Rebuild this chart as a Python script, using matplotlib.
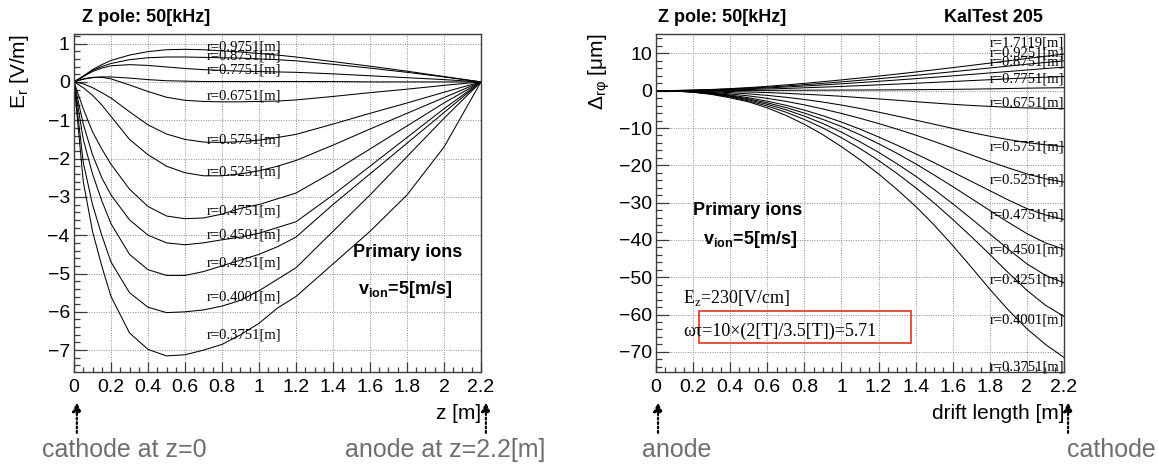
"""
Space-charge distortion from primary ions (Z pole, 50 kHz, v_ion = 5 m/s).

Left  : radial field E_r along z for several radii (cathode at z=0, anode at z=2.2 m)
Right : resulting r-phi displacement vs drift length (anode at 0, cathode at 2.2 m)
"""
import matplotlib.pyplot as plt
from matplotlib.patches import Rectangle
from matplotlib.ticker import MultipleLocator, FuncFormatter

plt.rcParams["font.family"] = ["Liberation Sans", "DejaVu Sans"]
SERIF = ["Liberation Serif", "DejaVu Serif"]

W, H = 1158, 465

# --- E_r [V/m] vs z [m] -------------------------------------------------------
Z_POS = [0, 0.05, 0.1, 0.15, 0.2, 0.3, 0.4, 0.5, 0.6, 0.7, 0.8, 0.9, 1.0, 1.1,
         1.2, 1.4, 1.6, 1.8, 2.0, 2.2]

ER_R09751 = [0, 0.15, 0.32, 0.45, 0.56, 0.70, 0.79, 0.84, 0.85, 0.84, 0.81, 0.78,
             0.74, 0.70, 0.65, 0.53, 0.41, 0.28, 0.14, 0]
ER_R08751 = [0, 0.15, 0.30, 0.40, 0.48, 0.58, 0.63, 0.65, 0.65, 0.64, 0.63, 0.62,
             0.60, 0.58, 0.55, 0.46, 0.36, 0.25, 0.13, 0]
ER_R07751 = [0, 0.14, 0.27, 0.36, 0.42, 0.45, 0.43, 0.39, 0.35, 0.32, 0.30, 0.28,
             0.27, 0.26, 0.25, 0.21, 0.16, 0.11, 0.06, 0]
ER_R07251 = [0, 0.07, 0.11, 0.13, 0.13, 0.10, 0.06, 0.03, 0.02, 0.01, 0.01, 0.01,
             0.01, 0.01, 0.01, 0.01, 0.0, 0.0, 0.0, 0]
ER_R06751 = [0, 0.08, 0.12, 0.12, 0.08, -0.08, -0.25, -0.40, -0.48, -0.51, -0.52,
             -0.52, -0.51, -0.50, -0.47, -0.38, -0.28, -0.19, -0.09, 0]
ER_R05751 = [0, -0.05, -0.15, -0.28, -0.42, -0.78, -1.12, -1.36, -1.50, -1.57,
             -1.58, -1.56, -1.52, -1.45, -1.37, -1.10, -0.82, -0.55, -0.27, 0]
ER_R05251 = [0, -0.15, -0.35, -0.60, -0.90, -1.50, -1.90, -2.20, -2.37, -2.45,
             -2.45, -2.40, -2.32, -2.20, -2.05, -1.65, -1.23, -0.82, -0.41, 0]
ER_R04751 = [0, -0.70, -1.30, -1.75, -2.15, -2.80, -3.25, -3.50, -3.57, -3.55,
             -3.45, -3.30, -3.20, -3.05, -2.90, -2.35, -1.75, -1.15, -0.55, 0]
ER_R04501 = [0, -1.10, -1.90, -2.50, -2.95, -3.60, -4.00, -4.20, -4.25, -4.20,
             -4.12, -4.05, -3.95, -3.80, -3.65, -2.95, -2.20, -1.45, -0.70, 0]
ER_R04251 = [0, -1.50, -2.40, -3.10, -3.70, -4.50, -4.90, -5.05, -5.05, -4.95,
             -4.80, -4.65, -4.50, -4.30, -4.05, -3.20, -2.40, -1.60, -0.80, 0]
ER_R04001 = [0, -2.10, -3.20, -4.00, -4.70, -5.50, -5.88, -6.02, -6.00, -5.95,
             -5.85, -5.70, -5.45, -5.15, -4.85, -3.90, -2.95, -1.95, -0.95, 0]
ER_R03751 = [0, -2.60, -3.90, -4.80, -5.60, -6.55, -6.98, -7.15, -7.12, -7.00,
             -6.85, -6.60, -6.30, -5.90, -5.60, -4.75, -3.90, -2.95, -1.70, 0]

ER_CURVES = [ER_R09751, ER_R08751, ER_R07751, ER_R07251, ER_R06751, ER_R05751,
             ER_R05251, ER_R04751, ER_R04501, ER_R04251, ER_R04001, ER_R03751]

ER_LABELS = ["r=0.9751[m]", "r=0.8751[m]", "r=0.7751[m]", "r=0.6751[m]",
             "r=0.5751[m]", "r=0.5251[m]", "r=0.4751[m]", "r=0.4501[m]",
             "r=0.4251[m]", "r=0.4001[m]", "r=0.3751[m]"]
ER_LABEL_Y = [0.92, 0.68, 0.30, -0.38, -1.51, -2.34, -3.37, -4.0, -4.73, -5.6, -6.6]

# --- Delta_rphi [um] vs drift length [m] -------------------------------------
DRIFT = [0.0, 0.1, 0.2, 0.3, 0.4, 0.5, 0.6, 0.7, 0.8, 0.9, 1.0, 1.1, 1.2, 1.3,
         1.4, 1.5, 1.6, 1.7, 1.8, 1.9, 2.0, 2.1, 2.2]

D_R17119 = [0, 0.05, 0.16, 0.33, 0.56, 0.84, 1.17, 1.55, 1.97, 2.42, 2.90, 3.40,
            3.92, 4.46, 5.02, 5.60, 6.19, 6.79, 7.40, 8.02, 8.64, 9.24, 9.80]
D_R09251 = [0, 0.04, 0.13, 0.27, 0.46, 0.69, 0.96, 1.27, 1.61, 1.98, 2.37, 2.78,
            3.21, 3.66, 4.12, 4.60, 5.09, 5.59, 6.09, 6.60, 7.10, 7.58, 8.00]
D_R08751 = [0, 0.03, 0.10, 0.21, 0.36, 0.54, 0.75, 0.99, 1.26, 1.55, 1.86, 2.18,
            2.52, 2.87, 3.23, 3.60, 3.98, 4.37, 4.76, 5.15, 5.55, 5.95, 6.30]
D_R07751 = [0, 0.02, 0.06, 0.13, 0.22, 0.33, 0.46, 0.61, 0.78, 0.96, 1.15, 1.35,
            1.56, 1.78, 2.00, 2.23, 2.47, 2.71, 2.95, 3.20, 3.42, 3.63, 3.80]
D_R07251 = [0, 0.01, 0.02, 0.03, 0.05, 0.07, 0.09, 0.11, 0.13, 0.15, 0.17, 0.19,
            0.21, 0.24, 0.27, 0.31, 0.36, 0.42, 0.50, 0.59, 0.68, 0.75, 0.80]
D_R06751 = [0, -0.01, -0.05, -0.12, -0.22, -0.35, -0.50, -0.70, -0.95, -1.20,
            -1.50, -1.85, -2.20, -2.55, -2.95, -3.30, -3.65, -3.95, -4.20, -4.45,
            -4.62, -4.72, -4.80]
D_R05751 = [0, -0.03, -0.12, -0.28, -0.52, -0.85, -1.25, -1.75, -2.35, -3.05,
            -3.85, -4.75, -5.75, -6.80, -7.90, -9.00, -10.1, -11.2, -12.2, -13.1,
            -13.9, -14.5, -15.0]
D_R05251 = [0, -0.05, -0.20, -0.45, -0.85, -1.40, -2.05, -2.85, -3.80, -4.90,
            -6.10, -7.40, -8.80, -10.3, -11.9, -13.6, -15.4, -17.2, -19.0, -20.7,
            -22.3, -23.6, -24.5]
D_R04751 = [0, -0.06, -0.25, -0.60, -1.15, -1.90, -2.80, -3.90, -5.20, -6.70,
            -8.40, -10.3, -12.4, -14.6, -16.9, -19.3, -21.8, -24.3, -26.8, -29.3,
            -31.6, -33.3, -34.5]
D_R04501 = [0, -0.07, -0.30, -0.72, -1.35, -2.20, -3.25, -4.50, -6.00, -7.70,
            -9.60, -11.8, -14.2, -16.8, -19.6, -22.6, -25.7, -28.9, -32.1, -35.3,
            -38.3, -40.8, -42.5]
D_R04251 = [0, -0.08, -0.34, -0.80, -1.50, -2.45, -3.65, -5.10, -6.80, -8.80,
            -11.1, -13.7, -16.5, -19.6, -22.9, -26.5, -30.3, -34.3, -38.4, -42.5,
            -46.4, -49.5, -51.5]
D_R04001 = [0, -0.09, -0.38, -0.90, -1.70, -2.75, -4.10, -5.75, -7.70, -10.0,
            -12.6, -15.5, -18.7, -22.2, -26.0, -30.1, -34.5, -39.1, -43.9, -48.8,
            -53.5, -57.5, -60.5]
D_R03751 = [0, -0.10, -0.40, -1.00, -1.90, -3.00, -4.60, -6.60, -9.00, -11.8,
            -15.0, -18.5, -22.3, -26.5, -31.0, -36.0, -41.5, -47.3, -53.2, -58.8,
            -63.8, -68.0, -71.5]

D_CURVES = [D_R17119, D_R09251, D_R08751, D_R07751, D_R07251, D_R06751, D_R05751,
            D_R05251, D_R04751, D_R04501, D_R04251, D_R04001, D_R03751]

D_LABELS = ["r=1.7119[m]", "r=0.9251[m]", "r=0.8751[m]", "r=0.7751[m]",
            "r=0.6751[m]", "r=0.5751[m]", "r=0.5251[m]", "r=0.4751[m]",
            "r=0.4501[m]", "r=0.4251[m]", "r=0.4001[m]", "r=0.3751[m]"]
D_LABEL_Y = [12.8, 10.1, 7.8, 3.1, -3.3, -15.0, -24.0, -33.3, -42.7, -50.8, -61.5, -74.0]

GRAY_TXT = "#6e6e6e"
FRAME = "#3c3c3c"


def fx(px):
    return px / W


def fy(py):
    return 1 - py / H


def tick_fmt(v, _pos):
    return f"{v:g}".replace("-", "\u2212")


def style_axes(ax, ymajor, yminor, ylim):
    ax.set_xlim(0, 2.2)
    ax.set_ylim(*ylim)
    ax.xaxis.set_major_locator(MultipleLocator(0.2))
    ax.xaxis.set_minor_locator(MultipleLocator(0.05))
    ax.xaxis.set_major_formatter(FuncFormatter(tick_fmt))
    ax.yaxis.set_major_locator(MultipleLocator(ymajor))
    ax.yaxis.set_minor_locator(MultipleLocator(yminor))
    ax.yaxis.set_major_formatter(FuncFormatter(tick_fmt))
    ax.tick_params(axis="both", which="both", direction="in", top=False,
                   right=False, color=FRAME, width=0.9, labelsize=14)
    ax.tick_params(axis="x", which="major", length=7, pad=5)
    ax.tick_params(axis="x", which="minor", length=3.5)
    ax.tick_params(axis="y", which="major", length=9, pad=3)
    ax.tick_params(axis="y", which="minor", length=4.5)
    for sp in ax.spines.values():
        sp.set_color(FRAME)
        sp.set_linewidth(1.0)
    ax.grid(True, which="major", color="#8a8a8a", linestyle=(0, (1, 1.5)),
            linewidth=0.7)
    ax.set_axisbelow(True)


def drift_arrow(ax, xfrac):
    ax.annotate("", xy=(xfrac, -0.09), xytext=(xfrac, -0.18),
                xycoords="axes fraction", textcoords="axes fraction",
                annotation_clip=False,
                arrowprops=dict(arrowstyle="-|>", color="black", lw=1.6,
                                linestyle=(0, (0.8, 1.2)), mutation_scale=13,
                                shrinkA=0, shrinkB=0))


fig = plt.figure(figsize=(W / 100, H / 100), dpi=100)
ax_l = fig.add_axes([fx(74), fy(372), fx(407), 338 / H])
ax_r = fig.add_axes([fx(656), fy(372), fx(408), 338 / H])

# ---- left: E_r ----
style_axes(ax_l, 1, 0.2, (-7.57, 1.25))
for vals in ER_CURVES:
    ax_l.plot(Z_POS, vals, color="black", lw=0.75)
for txt, y in zip(ER_LABELS, ER_LABEL_Y):
    ax_l.text(0.72, y, txt, family=SERIF, fontsize=10.5, va="center", ha="left")
ax_l.text(1.805, -4.44, "Primary ions", fontsize=13, fontweight="bold",
          ha="center", va="center")
ax_l.text(1.79, -5.43, r"v$_\mathregular{ion}$=5[m/s]", fontsize=13,
          fontweight="bold", ha="center", va="center")
ax_l.set_ylabel(r"E$_\mathregular{r}$ [V/m]", fontsize=15, loc="top")
ax_l.yaxis.set_label_coords(-0.105, 1.0)
ax_l.set_xlabel("z [m]", fontsize=15, loc="right")
ax_l.xaxis.set_label_coords(1.0, -0.095)
drift_arrow(ax_l, 0.007)
drift_arrow(ax_l, 1.012)

# ---- right: Delta_rphi ----
style_axes(ax_r, 10, 2, (-75.4, 15.2))
for vals in D_CURVES:
    ax_r.plot(DRIFT, vals, color="black", lw=0.75)
for txt, y in zip(D_LABELS, D_LABEL_Y):
    ax_r.text(1.8, y, txt, family=SERIF, fontsize=10.5, va="center", ha="left",
              clip_on=False)
ax_r.text(0.2, -32, "Primary ions", fontsize=13, fontweight="bold",
          ha="left", va="center")
ax_r.text(0.253, -40, r"v$_\mathregular{ion}$=5[m/s]", fontsize=13,
          fontweight="bold", ha="left", va="center")
ax_r.text(0.146, -55.6, r"E$_\mathregular{z}$=230[V/cm]", family=SERIF,
          fontsize=13, ha="left", va="center")
ax_r.text(0.146, -64.6, "ωτ=10×(2[T]/3.5[T])=5.71", family=SERIF,
          fontsize=13, ha="left", va="center")
ax_r.add_patch(Rectangle((0.232, -67.6), 1.143, 8.6, fill=False,
                         edgecolor="#e5432d", lw=1.3))
ax_r.set_ylabel("Δ$_\\mathregular{rφ}$ [μm]", fontsize=15, loc="top")
ax_r.yaxis.set_label_coords(-0.108, 1.0)
ax_r.set_xlabel("drift length [m]", fontsize=15, loc="right")
ax_r.xaxis.set_label_coords(1.0, -0.095)
drift_arrow(ax_r, 0.005)
drift_arrow(ax_r, 1.01)

# ---- titles ----
fig.text(fx(82), fy(18), "Z pole: 50[kHz]", fontsize=13, fontweight="bold",
         va="center", ha="left")
fig.text(fx(658), fy(18), "Z pole: 50[kHz]", fontsize=13, fontweight="bold",
         va="center", ha="left")
fig.text(fx(1043), fy(18), "KalTest 205", fontsize=13, fontweight="bold",
         va="center", ha="right")

# ---- electrode positions ----
fig.text(fx(42), fy(450), "cathode at z=0", fontsize=18, color=GRAY_TXT,
         va="center", ha="left")
fig.text(fx(345), fy(450), "anode at z=2.2[m]", fontsize=18, color=GRAY_TXT,
         va="center", ha="left")
fig.text(fx(642), fy(450), "anode", fontsize=18, color=GRAY_TXT,
         va="center", ha="left")
fig.text(fx(1156), fy(450), "cathode", fontsize=18, color=GRAY_TXT,
         va="center", ha="right")

fig.savefig("out.png", dpi=100)
